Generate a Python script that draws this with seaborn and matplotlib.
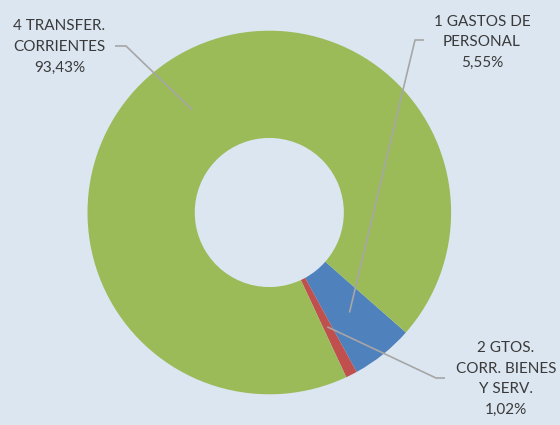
import numpy as np
import matplotlib
matplotlib.use("Agg")
import matplotlib.pyplot as plt
import seaborn as sns

# Budget shares by chapter (percent)
labels = ["1 GASTOS DE\nPERSONAL", "2 GTOS.\nCORR. BIENES\nY SERV.", "4 TRANSFER.\nCORRIENTES"]
shares = [5.55, 1.02, 93.43]
share_text = ["5,55%", "1,02%", "93,43%"]
colors = ["#4f81bd", "#c0504d", "#9bbb59"]

sns.set_theme(style="white")
plt.rcParams["font.family"] = ["Lato", "DejaVu Sans"]

BG = "#dce6f1"
TXT = "#3a3a3a"
LEAD = "#a6a6a6"

W, H = 560, 425
fig = plt.figure(figsize=(W / 100, H / 100), dpi=100, facecolor=BG)
ax = fig.add_axes([0, 0, 1, 1])
ax.set_facecolor(BG)

# pixel layout of the ring
cx, cy, rpx = 269.3, 212.5, 181.8
ring_width = 0.59

def px(x, y):
    return ((x - cx) / rpx, (cy - y) / rpx)

wedges, _ = ax.pie(shares, colors=colors, startangle=-41.3, counterclock=False,
                   radius=1.0, wedgeprops=dict(width=ring_width, linewidth=0))

ax.set_aspect("auto")
ax.set_xlim(-cx / rpx, (W - cx) / rpx)
ax.set_ylim(-(H - cy) / rpx, cy / rpx)
ax.axis("off")

# label blocks: text centre, leader elbow and leader start (pixels)
label_pos = [(482, 42.4), (506, 379), (59.5, 47.2)]
leader_start = [(424, 40), (445, 378), (115, 46)]
leader_elbow = [(415, 40), (436, 378), (126, 46)]

rmid = 1.0 - ring_width / 2
for w, lab, pct, lp, ls, le in zip(wedges, labels, share_text, label_pos,
                                   leader_start, leader_elbow):
    ang = np.deg2rad((w.theta1 + w.theta2) / 2)
    ex, ey = rmid * np.cos(ang), rmid * np.sin(ang)
    sx, sy = px(*ls)
    bx, by = px(*le)
    ax.plot([sx, bx, ex], [sy, by, ey], color=LEAD, lw=1.2, solid_capstyle="butt")
    tx, ty = px(*lp)
    ax.text(tx, ty, f"{lab}\n{pct}", ha="center", va="center", fontsize=11,
            color=TXT, linespacing=1.62)

fig.savefig("out.png", dpi=100, facecolor=BG)
